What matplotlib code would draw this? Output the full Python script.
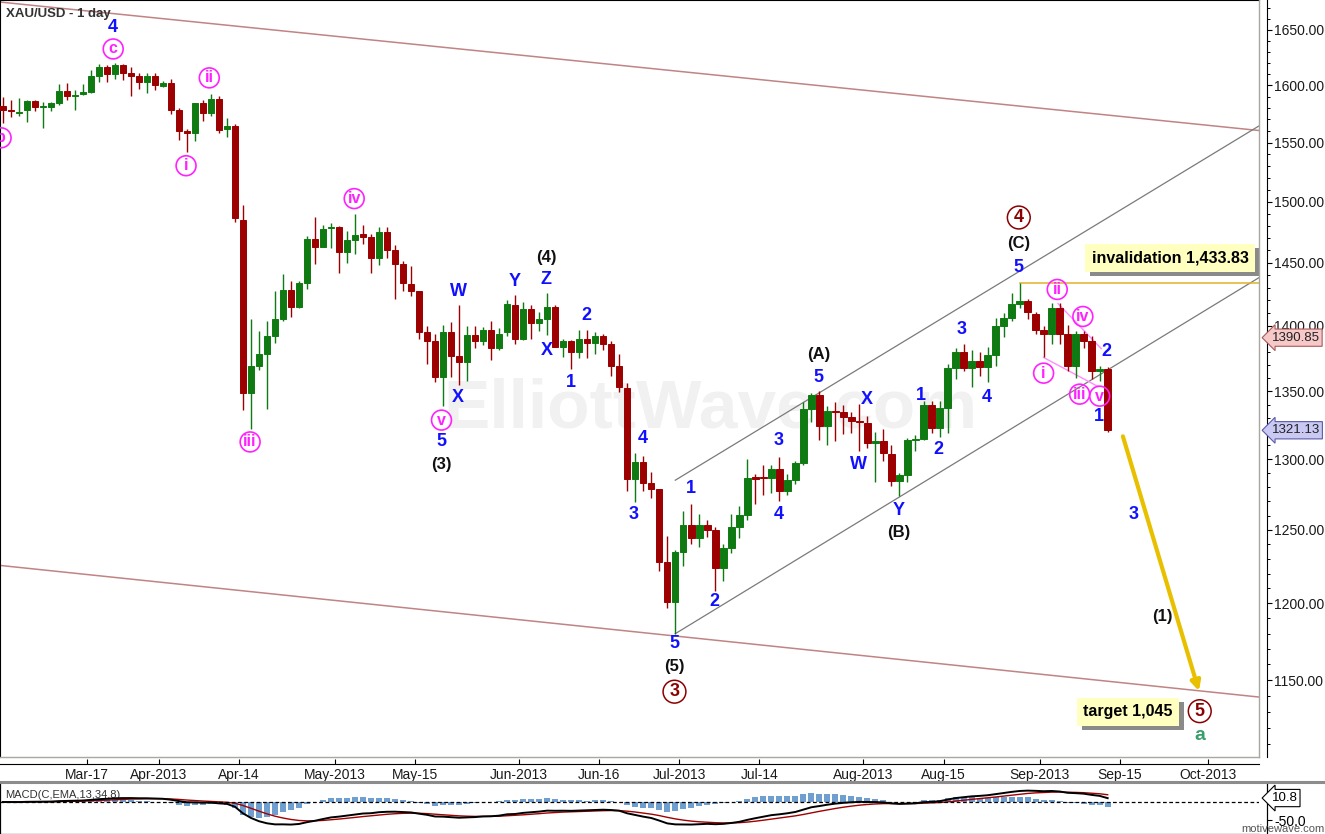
import matplotlib
matplotlib.use("Agg")
import matplotlib.pyplot as plt
import numpy as np
import pandas as pd
from matplotlib.lines import Line2D
from matplotlib.ticker import FixedLocator, FuncFormatter, NullFormatter
from matplotlib.transforms import offset_copy

plt.rcParams["font.family"] = ["Liberation Sans", "DejaVu Sans"]

# XAU/USD daily candles, 1 Mar 2013 .. 12 Sep 2013
opens = [
    1582, 1578, 1576, 1578, 1586, 1581, 1581, 1584, 1595, 1591,
    1592.5, 1594, 1608, 1616, 1610, 1618, 1611, 1608, 1603, 1608,
    1599.5, 1602, 1578, 1560, 1558, 1584, 1576, 1588, 1562, 1564,
    1485, 1349, 1369, 1378, 1392, 1405, 1428, 1414.5, 1433.4, 1469.5,
    1463, 1478, 1478.6, 1459, 1468.7, 1473, 1471, 1454, 1475, 1460,
    1449.3, 1433, 1427, 1395, 1388, 1361, 1395, 1377, 1372, 1392.6,
    1388, 1396.5, 1383, 1395, 1416, 1389.6, 1413, 1402, 1405, 1415,
    1384, 1388, 1379.6, 1390, 1387, 1392, 1386, 1369, 1352.5, 1286,
    1298, 1283, 1279, 1227.6, 1201, 1235, 1253.6, 1244.7, 1253.6, 1250,
    1224, 1237.8, 1252.3, 1260.6, 1287, 1287, 1286.7, 1293, 1277, 1285,
    1297.4, 1336.8, 1347, 1324.3, 1335.3, 1334.5, 1331, 1328, 1326.5, 1312,
    1313, 1304, 1284.6, 1289, 1314, 1315, 1339.7, 1322.8, 1337.5, 1367.5,
    1379.6, 1367.5, 1373, 1368, 1377.6, 1400, 1406, 1417, 1419.5, 1409,
    1397, 1394, 1413.7, 1393.4, 1369, 1393.4, 1388, 1365.5, 1366.5,
]
highs = [
    1590, 1587, 1589, 1587, 1587, 1585, 1585.5, 1601, 1602, 1596,
    1601, 1614, 1619, 1618, 1620, 1619, 1616, 1611, 1611, 1611,
    1604, 1606, 1580, 1562, 1584, 1587, 1592, 1591, 1571, 1566,
    1497, 1405, 1396, 1403.5, 1427, 1440.5, 1435, 1435.7, 1472, 1487.6,
    1481, 1482.6, 1480, 1476, 1490, 1481, 1473, 1478.6, 1478.6, 1464,
    1451, 1447.7, 1427.5, 1400, 1394, 1401, 1403, 1416, 1400, 1400,
    1399, 1403.5, 1398, 1420, 1424.5, 1418.5, 1416.5, 1411, 1426, 1416.5,
    1390, 1389, 1396.5, 1396.5, 1395, 1393.5, 1388.5, 1378, 1356.4, 1304.6,
    1302.5, 1291, 1279, 1246, 1236.4, 1263, 1268, 1261, 1257, 1252,
    1240, 1261, 1267, 1300, 1289.6, 1296, 1296, 1301.7, 1289.6, 1299,
    1342, 1349, 1350, 1339, 1342, 1339.7, 1334.5, 1340.5, 1332, 1320,
    1322, 1310, 1290, 1315.5, 1317.7, 1342.7, 1342.7, 1342.7, 1370.5, 1382.7,
    1385.8, 1381, 1380, 1384, 1406, 1410, 1426, 1433.83, 1421, 1411,
    1400, 1417.7, 1417.7, 1401, 1395.7, 1395.7, 1392, 1369.5, 1368,
]
lows = [
    1567, 1572, 1573, 1568, 1577, 1563, 1577, 1583, 1587, 1578,
    1591.5, 1593, 1603, 1603, 1606, 1605, 1591, 1597, 1593, 1596,
    1599, 1575, 1552, 1542, 1551, 1569, 1573, 1558, 1555, 1483,
    1336, 1322, 1366, 1337, 1387, 1403.5, 1406.7, 1413.7, 1428.6, 1449.3,
    1462.6, 1462, 1441.3, 1450, 1457, 1465.5, 1442, 1448.5, 1454, 1420.7,
    1427, 1423, 1389.6, 1370.5, 1357, 1339, 1361, 1355, 1358, 1383,
    1385, 1374, 1381, 1392, 1385.8, 1389, 1389.6, 1396, 1393, 1384,
    1376, 1366.7, 1375, 1375, 1378, 1381, 1361.5, 1349.5, 1277, 1269.7,
    1277, 1272, 1222, 1197, 1180, 1225.5, 1240, 1238, 1245, 1208.6,
    1215, 1234, 1244.7, 1257, 1268, 1274.6, 1276, 1270, 1274.6, 1282.5,
    1296, 1327, 1314, 1310, 1313, 1318.5, 1319, 1306, 1308, 1284,
    1299, 1281, 1273.7, 1284, 1306, 1314, 1319, 1316, 1319, 1359,
    1365, 1353, 1361.5, 1356.7, 1369, 1391.5, 1403.5, 1414, 1405, 1393.5,
    1375.8, 1385.8, 1385.8, 1365, 1360, 1383, 1359, 1357.7, 1320,
]
closes = [
    1578, 1577, 1576.5, 1586, 1581, 1582, 1584, 1595, 1591, 1591.5,
    1594, 1608, 1616, 1610, 1618, 1611, 1608, 1603, 1608, 1600,
    1602, 1578, 1560, 1558, 1584, 1576, 1588, 1561, 1564, 1486,
    1349, 1369, 1378, 1392, 1405, 1428, 1414.5, 1433.4, 1469.5, 1463,
    1477, 1479, 1459, 1468.7, 1472.8, 1471, 1454, 1475, 1460, 1449.3,
    1433.4, 1427, 1395, 1388, 1361, 1395, 1377, 1372, 1392.6, 1388,
    1396.5, 1383, 1394, 1417, 1389.6, 1413, 1402, 1405, 1415, 1384,
    1388, 1379.6, 1390, 1387, 1392, 1386, 1369, 1353, 1286, 1298,
    1283, 1279, 1227.6, 1201, 1235, 1253.6, 1244.7, 1253.6, 1250, 1224,
    1237.8, 1252.3, 1260.6, 1286.7, 1286, 1286.5, 1293, 1277, 1285, 1297.4,
    1336.8, 1347.3, 1324.3, 1335.3, 1334.5, 1331, 1328, 1327, 1312, 1313,
    1304.6, 1284.6, 1289, 1314, 1315, 1339.7, 1322.8, 1337.5, 1367.5, 1379.6,
    1367.5, 1373, 1368, 1377.6, 1400, 1406, 1417, 1419.5, 1410.5, 1397,
    1394, 1413.7, 1393.4, 1369, 1393.4, 1388, 1365, 1367, 1321.13,
]

tick_dates = ["2013-03-17", "2013-04-01", "2013-04-14", "2013-05-01", "2013-05-15",
              "2013-06-01", "2013-06-16", "2013-07-01", "2013-07-14", "2013-08-01",
              "2013-08-15", "2013-09-01", "2013-09-15", "2013-10-01"]
tick_labels = ["Mar-17", "Apr-2013", "Apr-14", "May-2013", "May-15", "Jun-2013", "Jun-16",
               "Jul-2013", "Jul-14", "Aug-2013", "Aug-15", "Sep-2013", "Sep-15", "Oct-2013"]
price_ticks = [1150, 1200, 1250, 1300, 1350, 1400, 1450, 1500, 1550, 1600, 1650]

# trend lines: (bar index, price) end points
outer_upper = [(-0.34, 1675.8), (156.9, 1560.4)]
outer_lower = [(-0.34, 1225.6), (156.9, 1139.2)]
channel_lower = [(84, 1180), (156.9, 1438)]
channel_upper = [(84, 1285), (156.9, 1564.4)]
diag_upper = [(131.8, 1417.4), (137.2, 1382.4)]
diag_lower = [(130.0, 1375.6), (136.8, 1353.6)]
invalidation = 1433.83
invalidation_from = 127
arrow_from = (139.9, 1316.7)
arrow_to = (149.4, 1143)

# wave labels (text, bar index, price)
blue_labels = [("4", 13.8, 1652.7), ("5", 54.8, 1312.6), ("W", 56.9, 1427), ("X", 56.8, 1345.7),
               ("Y", 63.9, 1435), ("Z", 67.9, 1436.5), ("X", 67.9, 1381), ("2", 72.9, 1408),
               ("1", 70.9, 1357), ("4", 79.9, 1314.8), ("3", 78.8, 1260.6), ("1", 85.9, 1279),
               ("2", 88.9, 1201.5), ("5", 83.9, 1173.8), ("3", 96.9, 1313.3), ("4", 96.9, 1260.6),
               ("5", 101.9, 1360.7), ("X", 107.9, 1344.2), ("W", 106.9, 1296), ("Y", 111.9, 1263.4),
               ("1", 114.7, 1347.2), ("2", 116.9, 1306.8), ("3", 119.8, 1397.3), ("4", 122.9, 1345.7),
               ("5", 126.9, 1446.1), ("2", 137.9, 1380.4), ("1", 136.9, 1331.6), ("3", 141.3, 1260.6)]
black_labels = [("(3)", 54.8, 1296), ("(4)", 67.9, 1454.1), ("(5)", 83.9, 1158.4), ("(A)", 101.9, 1378.1),
                ("(B)", 111.9, 1248.1), ("(C)", 126.9, 1465.4), ("(1)", 144.8, 1191.4)]
minute_labels = [("c", 13.8, 1632.7), ("b", -0.2, 1554.1), ("ii", 25.8, 1606.7), ("i", 22.9, 1530.2),
                 ("iii", 30.9, 1312.6), ("iv", 43.9, 1502.5), ("v", 54.8, 1328.6), ("ii", 131.7, 1428.6),
                 ("iv", 134.9, 1407.3), ("i", 130.0, 1363.7), ("iii", 134.5, 1347.9), ("v", 137.0, 1346.4)]
primary_labels = [("3", 83.9, 1142.6), ("4", 126.9, 1486.8), ("5", 149.5, 1130.3)]
green_labels = [("a", 149.5, 1115.4)]
notes = [("invalidation 1,433.83", 145.8, 1454.0), ("target 1,045", 140.5, 1129.8)]
price_tags = [(1390.85, "#f6c8c8", "#a85a5a"), (1321.13, "#c9c9f4", "#5a5aa8")]
macd_tag = 10.8

GREEN, RED = "#0f7a12", "#9c0000"
BLUE, MAGENTA, DARKRED = "#1010ff", "#ff22ff", "#8b0000"

W, H = 1325, 834
fig = plt.figure(figsize=(W / 100, H / 100), dpi=100)
ax = fig.add_axes([0, 1 - 757 / H, 1259 / W, 757 / H])

trading_days = pd.bdate_range("2013-03-01", "2013-10-31")
trading_days = trading_days[trading_days != pd.Timestamp("2013-03-29")]
idx = np.arange(len(closes))

o, h, l, c = (np.array(v, dtype=float) for v in (opens, highs, lows, closes))
colors = np.where(c >= o, GREEN, RED)
ax.vlines(idx, l, h, colors=colors, linewidth=1.0, zorder=3)
lo, hi = np.minimum(o, c), np.maximum(o, c)
ax.bar(idx, hi - lo, bottom=lo, width=0.8, color=colors, edgecolor=colors, linewidth=0.7, zorder=4)

ax.set_yscale("log")
ax.set_xlim(-0.3375, 156.9)
ax.set_ylim(1101.9, 1677.7)

ax.text(0.564, 0.459, "ElliottWave.com", transform=ax.transAxes, fontsize=50, fontweight="bold",
        color="#f1f1f1", ha="center", va="center", zorder=1)

for pts, col, lw in [(outer_upper, "#c08484", 1.1), (outer_lower, "#c08484", 1.1),
                     (channel_lower, "#7a7a7a", 0.9), (channel_upper, "#7a7a7a", 0.9),
                     (diag_upper, "#ff8cff", 1.0), (diag_lower, "#ff8cff", 1.0)]:
    ax.plot([p[0] for p in pts], [p[1] for p in pts], color=col, lw=lw, zorder=2)
ax.plot([invalidation_from, 156.9], [invalidation] * 2, color="#e2b22a", lw=1.1, zorder=2)
ax.annotate("", xy=arrow_to, xytext=arrow_from, zorder=6,
            arrowprops=dict(arrowstyle="-|>", color="#e8c000", lw=3, mutation_scale=14,
                            shrinkA=0, shrinkB=0))

for t, x, y in blue_labels:
    ax.text(x, y, t, color=BLUE, fontsize=13, fontweight="bold", ha="center", va="center", zorder=7)
for t, x, y in black_labels:
    ax.text(x, y, t, color="#111111", fontsize=12, fontweight="bold", ha="center", va="center", zorder=7)
for t, x, y in green_labels:
    ax.text(x, y, t, color="#3a9e6c", fontsize=14, fontweight="bold", ha="center", va="center", zorder=7)

ax.scatter([v[1] for v in minute_labels], [v[2] for v in minute_labels], s=205, facecolors="none",
           edgecolors=MAGENTA, linewidths=1.2, zorder=7)
for t, x, y in minute_labels:
    ax.text(x, y, t, color=MAGENTA, fontsize=11.5, fontweight="bold", ha="center", va="center",
            zorder=8, clip_on=True)
ax.scatter([v[1] for v in primary_labels], [v[2] for v in primary_labels], s=270, facecolors="none",
           edgecolors=DARKRED, linewidths=1.1, zorder=7)
for t, x, y in primary_labels:
    ax.text(x, y, t, color=DARKRED, fontsize=13, fontweight="bold", ha="center", va="center", zorder=8)

shadow = offset_copy(ax.transData, fig=fig, x=5, y=-4, units="dots")
for t, x, y in notes:
    ax.text(x, y, t, transform=shadow, color="#8a8a8a", fontsize=11.5, fontweight="bold",
            ha="center", va="center", zorder=8,
            bbox=dict(boxstyle="square,pad=0.4", fc="#8a8a8a", ec="none"))
    ax.text(x, y, t, color="black", fontsize=11.5, fontweight="bold", ha="center", va="center",
            zorder=9, bbox=dict(boxstyle="square,pad=0.4", fc="#ffffc0", ec="none"))

# axes styling
ax.yaxis.tick_right()
ax.yaxis.set_major_locator(FixedLocator(price_ticks))
ax.yaxis.set_major_formatter(FuncFormatter(lambda v, _: f"{v:.2f}"))
ax.yaxis.set_minor_locator(FixedLocator(np.arange(1110, 1680, 10)))
ax.yaxis.set_minor_formatter(NullFormatter())
ax.tick_params(axis="y", which="major", direction="out", length=3.5, width=0.8, pad=1.5,
               labelsize=10, labelcolor="#1a1a1a")
ax.tick_params(axis="y", which="minor", direction="out", length=2.2, width=0.7)
tick_pos = [np.searchsorted(trading_days, pd.Timestamp(d)) - 0.5 for d in tick_dates]
ax.set_xticks(tick_pos)
ax.set_xticklabels(tick_labels)
ax.tick_params(axis="x", direction="in", length=3.6, width=0.8, pad=3, labelsize=10,
               labelcolor="#1a1a1a")
ax.spines["right"].set_position(("outward", 6))
ax.spines["bottom"].set_position(("outward", 5))
ax.spines["top"].set_color("black")
ax.spines["left"].set_color("black")
ax.plot([1, 1], [0, 1], transform=ax.transAxes, color="#a8a8a0", lw=1, clip_on=False, zorder=10)
ax.plot([0, 1], [0, 0], transform=ax.transAxes, color="#a8a8a0", lw=1, clip_on=False, zorder=10)

ax.text(0.005, 0.982, "XAU/USD - 1 day", transform=ax.transAxes, fontsize=9.5, fontweight="bold",
        color="#333333", ha="left", va="center")

for value, fc, ec in price_tags:
    ax.annotate(f"{value:.2f}", xy=(1.0, value), xycoords=("axes fraction", "data"),
                xytext=(9, 0), textcoords="offset points", fontsize=9.5, color="#222222",
                ha="left", va="center", annotation_clip=False, zorder=11,
                bbox=dict(boxstyle="larrow,pad=0.2", fc=fc, ec=ec, lw=0.8))

fig.add_artist(Line2D([0, 1], [1 - 782 / H] * 2, color="#8c8c8c", lw=2.2, transform=fig.transFigure))

# MACD study
close_s = pd.Series(c)
macd = close_s.ewm(span=13, adjust=False).mean() - close_s.ewm(span=34, adjust=False).mean()
signal = macd.ewm(span=8, adjust=False).mean()
hist = macd - signal

mx = fig.add_axes([0, 0, 1259 / W, 50 / H])
hx = mx.twinx()  # histogram is auto-scaled on its own, zero shared with the lines
hx.bar(idx, hist, width=0.75, color="#6f9fcf", zorder=2)
hx.set_ylim(-87 / 1.6, 49 / 1.6)
hx.set_yticks([])
hx.set_zorder(1)
mx.set_zorder(2)
mx.patch.set_visible(False)
mx.plot(idx, signal, color="#a00000", lw=1.0, zorder=3)
mx.plot(idx, macd, color="black", lw=1.4, zorder=4)
mx.axhline(0, color="black", lw=0.9, ls=(0, (3, 2)), zorder=3)
mx.set_xlim(ax.get_xlim())
hx.set_xlim(ax.get_xlim())
mx.set_ylim(-87, 49)
mx.set_xticks([])
mx.yaxis.tick_right()
mx.set_yticks([-50])
mx.set_yticklabels(["-50.0"])
mx.tick_params(axis="y", direction="out", length=3.5, pad=1.5, labelsize=10)
for a in (mx, hx):
    a.spines["top"].set_visible(False)
    a.spines["right"].set_position(("outward", 6))
mx.text(0.004, 0.78, "MACD(C,EMA,13,34,8)", transform=mx.transAxes, fontsize=8, color="#333333",
        ha="left", va="center")
mx.annotate(f"{macd_tag:.1f}", xy=(1.0, macd_tag), xycoords=("axes fraction", "data"),
            xytext=(9, 0), textcoords="offset points", fontsize=9.5, ha="left", va="center",
            annotation_clip=False, bbox=dict(boxstyle="larrow,pad=0.2", fc="white", ec="black", lw=0.8))
fig.text(1283 / W, 1 - 829 / H, "motivewave.com", fontsize=8, color="#555555", ha="center", va="center")

fig.savefig("out.png", dpi=100)
plt.close(fig)
